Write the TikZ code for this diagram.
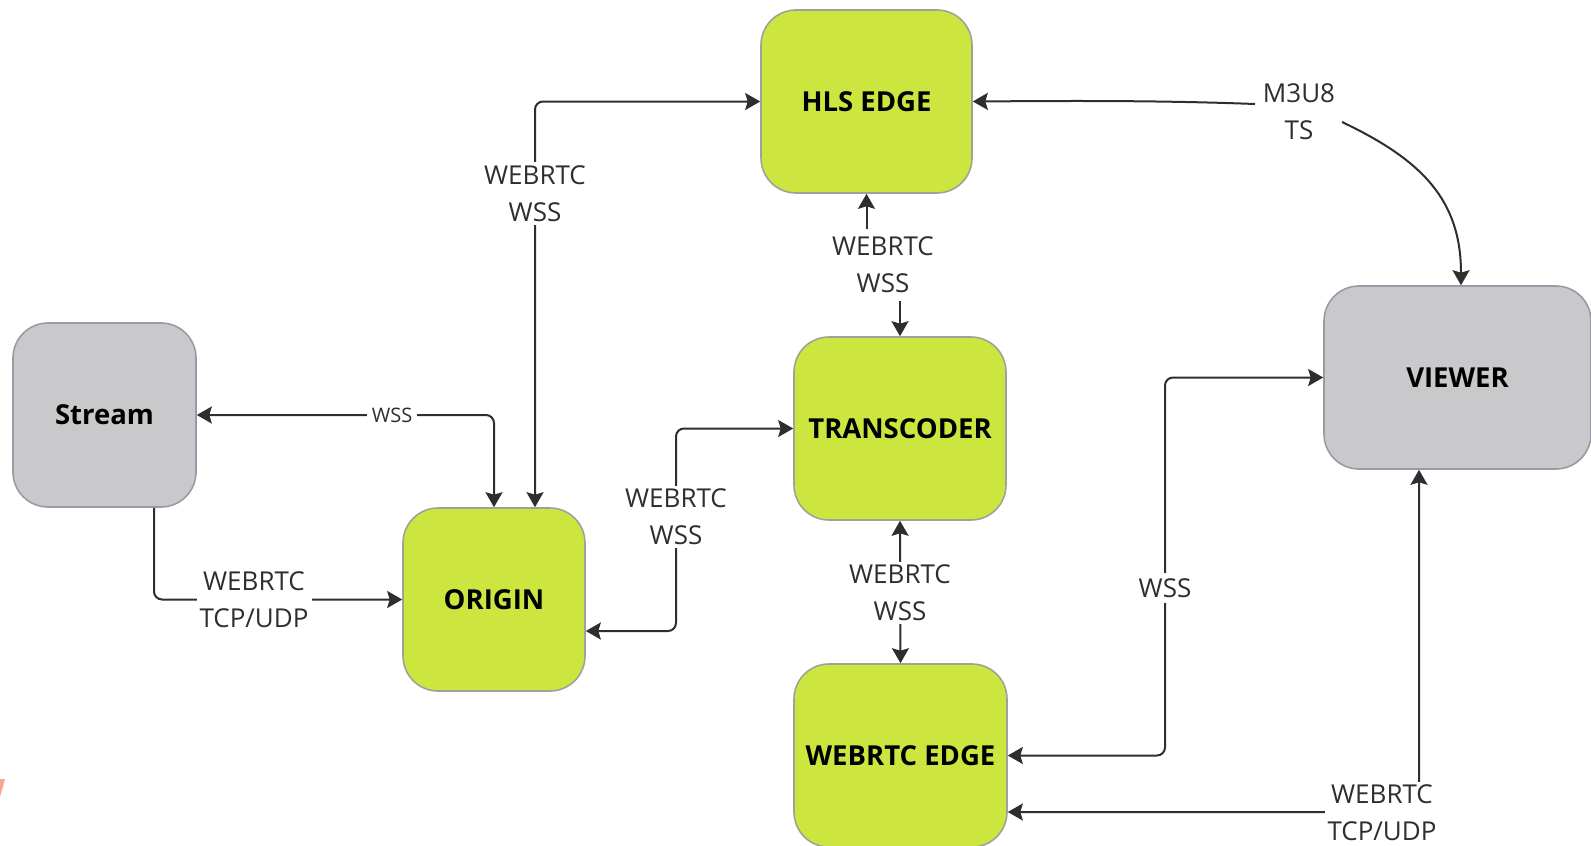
\documentclass[tikz,border=0pt]{standalone}
\usepackage{fontspec}
\setmainfont{Open Sans}
\usetikzlibrary{arrows.meta}
\definecolor{lime}{HTML}{CDE63F}
\definecolor{limeedge}{HTML}{9FA29A}
\definecolor{greybox}{HTML}{C9C9CB}
\definecolor{greyedge}{HTML}{9A9AA6}
\definecolor{ink}{HTML}{2E2E2E}
\definecolor{salmon}{HTML}{F6A88E}
\tikzset{
  box/.style={rounded corners=35pt, line width=1.6pt, inner sep=0pt,
    font=\bfseries\fontsize{27.5}{30}\selectfont, text=black},
  limebox/.style={box, fill=lime, draw=limeedge},
  greybox/.style={box, fill=greybox, draw=greyedge},
  conn/.style={draw=ink, line width=2pt, rounded corners=8pt,
    >={Stealth[length=15pt, width=17pt, inset=2.5pt]}},
  lbl/.style={fill=white, text=ink, align=center, inner sep=3pt,
    font=\fontsize{26}{37}\selectfont},
  smalllbl/.style={fill=white, text=ink, inner sep=5pt,
    font=\fontsize{20}{22}\selectfont},
}
\begin{document}
\begin{tikzpicture}[x=1pt, y=-1pt]
\useasboundingbox (0,0) rectangle (1591,846);
\fill[white] (0,0) rectangle (1591,846);
\fill[salmon] (0,779) -- (5,779) -- (0,797) -- cycle;

% nodes
\node[limebox, minimum width=211pt, minimum height=183pt] (hls) at (866.5,101.5) {HLS EDGE};
\node[greybox, minimum width=183pt, minimum height=184pt] (stream) at (104.5,415) {Stream};
\node[limebox, minimum width=182pt, minimum height=183pt] (origin) at (494,599.5) {ORIGIN};
\node[limebox, minimum width=212pt, minimum height=183pt] (trans) at (900,428.5) {TRANSCODER};
\node[limebox, minimum width=213pt, minimum height=183pt] (edge) at (900.5,755.5) {WEBRTC EDGE};
\node[greybox, minimum width=267pt, minimum height=183pt] (viewer) at (1457.5,377.5) {VIEWER};

% coordinates
\coordinate (otmid) at (676,517);
\coordinate (evmid) at (1165,588);
\coordinate (m1) at (1255,104);
\coordinate (m2) at (1342,122);

% connectors
\draw[conn, <->] (stream.east) -| (origin.north);
\node[smalllbl] (lwss1) at (392,415) {WSS};

\draw[conn, ->] ([xshift=49.5pt]stream.south) |- (origin.west);
\node[lbl] (lsto) at (254,600) {WEBRTC\\TCP/UDP};

\draw[conn, <->] ([xshift=41pt]origin.north) |- (hls.west);
\node[lbl] (loh) at (535,193.5) {WEBRTC\\WSS};

\draw[conn, <->] ([yshift=-31.5pt]origin.east) -| (otmid) |- (trans.west);
\node[lbl] (lot) at (otmid) {WEBRTC\\WSS};

\draw[conn, ->] ([yshift=-35pt]hls.south) -- (hls.south);
\draw[conn, ->] ([yshift=35pt]trans.north) -- (trans.north);
\node[lbl, fill=none] (lht) at (883,265) {WEBRTC\\WSS};

\draw[conn, <->] (trans.south) -- (edge.north);
\node[lbl] (lte) at (900,593) {WEBRTC\\WSS};

\draw[conn, <->] (edge.east) -| (evmid) |- (viewer.west);
\node[lbl, inner sep=5pt] (lev) at (evmid) {WSS};

\draw[conn, <->] ([xshift=-38.5pt]viewer.south) |- ([yshift=-56.5pt]edge.east);
\node[lbl] (lve) at (1382,813) {WEBRTC\\TCP/UDP};

\draw[conn, ->] (m1) .. controls (1150,100) and (1050,101) .. (hls.east);
\draw[conn, ->] (m2) .. controls (1422,160) and (1461,200) .. ([xshift=3.5pt]viewer.north);
\node[lbl, fill=none] (lm3u8) at (1299,112) {M3U8\\TS};
\end{tikzpicture}
\end{document}
